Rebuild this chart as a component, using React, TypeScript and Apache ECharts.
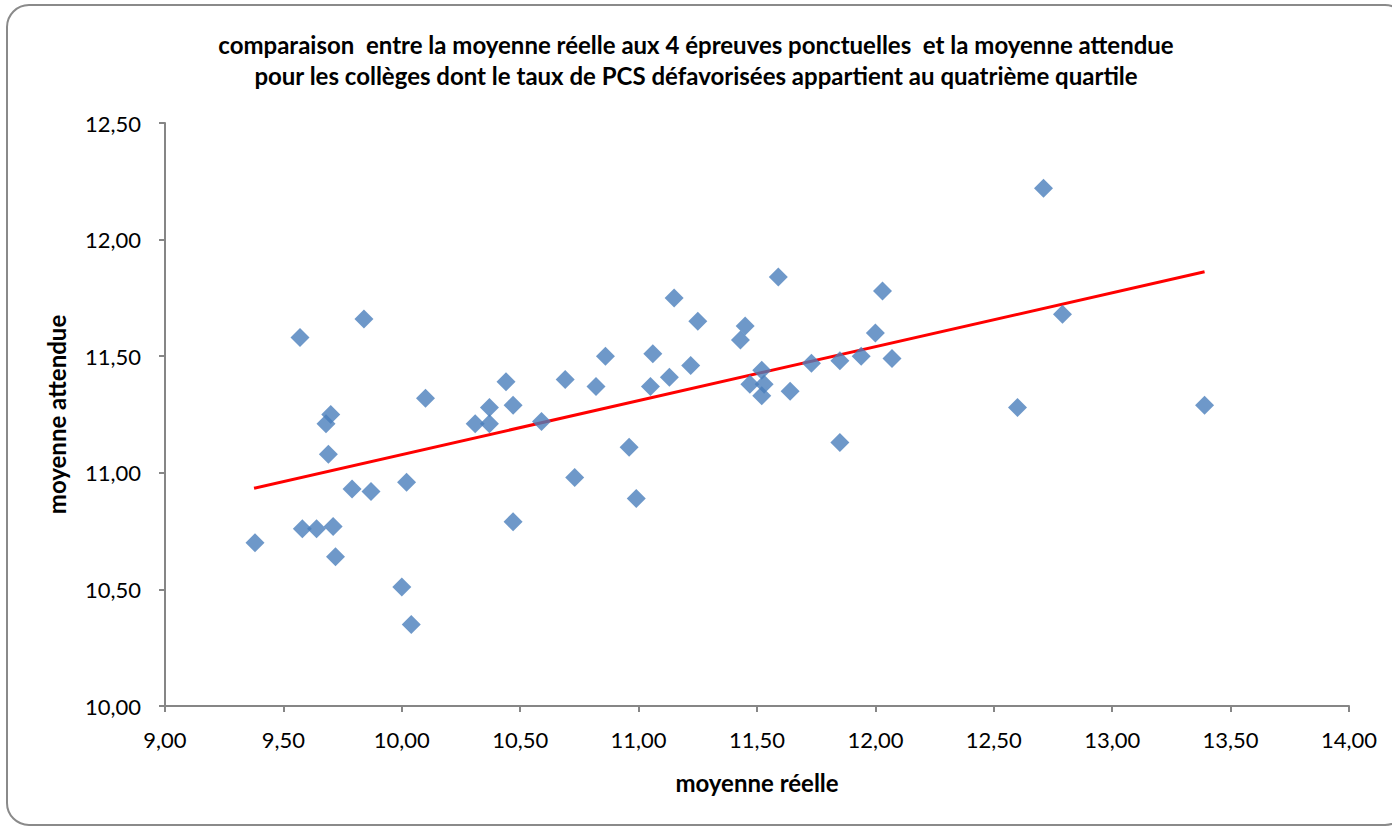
import React, { useEffect, useRef } from "react";
import * as echarts from "echarts";

const xReelle = [
  9.38, 9.57, 9.84, 9.58, 9.64, 9.71, 9.72, 9.70, 9.68, 9.69, 9.79, 9.87, 10.02, 10.0, 10.04, 10.1,
  10.31, 10.37, 10.37, 10.44, 10.47, 10.47, 10.59, 10.69, 10.73, 10.82, 10.86, 10.96, 10.99, 11.06,
  11.05, 11.13, 11.15, 11.22, 11.25, 11.43, 11.45, 11.59, 11.52, 11.47, 11.53, 11.52, 11.64, 11.73,
  11.85, 11.85, 11.94, 12.0, 12.03, 12.07, 12.71, 12.79, 12.6, 13.39,
];
const yAttendue = [
  10.70, 11.58, 11.66, 10.76, 10.76, 10.77, 10.64, 11.25, 11.21, 11.08, 10.93, 10.92, 10.96, 10.51,
  10.35, 11.32, 11.21, 11.28, 11.21, 11.39, 11.29, 10.79, 11.22, 11.40, 10.98, 11.37, 11.50, 11.11,
  10.89, 11.51, 11.37, 11.41, 11.75, 11.46, 11.65, 11.57, 11.63, 11.84, 11.44, 11.38, 11.38, 11.33,
  11.35, 11.47, 11.48, 11.13, 11.50, 11.60, 11.78, 11.49, 12.22, 11.68, 11.28, 11.29,
];
const trendX = [9.376, 13.39];
const trendY = [10.934, 11.862];

const titleLines = [
  "comparaison  entre la moyenne réelle aux 4 épreuves ponctuelles  et la moyenne attendue",
  "pour les collèges dont le taux de PCS défavorisées appartient au quatrième quartile",
];

const FONT = "Lato";
const fmt = (v: number) => v.toFixed(2).replace(".", ",");

export default function App() {
  const ref = useRef<HTMLDivElement>(null);
  useEffect(() => {
    if (!ref.current) return;
    const chart = echarts.init(ref.current, null, { renderer: "svg" });
    const axisLine = { show: true, lineStyle: { color: "#868686", width: 2 } };
    chart.setOption({
      animation: false,
      backgroundColor: "#ffffff",
      textStyle: { fontFamily: FONT },
      title: {
        text: titleLines.join("\n"),
        left: "center",
        top: 24,
        textStyle: { fontFamily: FONT, fontSize: 24, fontWeight: "bold", color: "#000", lineHeight: 31 },
      },
      graphic: [
        {
          type: "rect",
          shape: { x: 7, y: 5, width: 1400, height: 820, r: 22 },
          style: { fill: "none", stroke: "#8a8a8a", lineWidth: 2 },
          silent: true,
          z: -1,
        },
      ],
      grid: { left: 165, top: 123, right: 43, bottom: 120, containLabel: false },
      xAxis: {
        type: "value",
        min: 9,
        max: 14,
        interval: 0.5,
        name: "moyenne réelle",
        nameLocation: "middle",
        nameGap: 64,
        nameTextStyle: { fontFamily: FONT, fontSize: 24, fontWeight: "bold", color: "#000" },
        axisLine,
        axisTick: { show: true, length: 6, lineStyle: { color: "#868686", width: 2 } },
        axisLabel: { formatter: fmt, fontFamily: FONT, fontSize: 22, color: "#000", margin: 22 },
        splitLine: { show: false },
      },
      yAxis: {
        type: "value",
        min: 10,
        max: 12.5,
        interval: 0.5,
        name: "moyenne attendue",
        nameLocation: "middle",
        nameGap: 97,
        nameTextStyle: { fontFamily: FONT, fontSize: 24, fontWeight: "bold", color: "#000" },
        axisLine,
        axisTick: { show: true, length: 6, lineStyle: { color: "#868686", width: 2 } },
        axisLabel: { formatter: fmt, fontFamily: FONT, fontSize: 22, color: "#000", margin: 24 },
        splitLine: { show: false },
      },
      series: [
        {
          type: "line",
          data: trendX.map((x, i) => [x, trendY[i]]),
          showSymbol: false,
          symbol: "none",
          lineStyle: { color: "#ff0000", width: 3 },
          z: 1,
        },
        {
          type: "scatter",
          data: xReelle.map((x, i) => [x, yAttendue[i]]),
          symbol: "diamond",
          symbolSize: 19,
          itemStyle: { color: "#4a7ebb" },
          z: 2,
        },
      ],
    });
    return () => chart.dispose();
  }, []);
  return (
    <div
      ref={ref}
      style={{ position: "fixed", left: 0, top: 0, width: 1392, height: 826 }}
    />
  );
}
